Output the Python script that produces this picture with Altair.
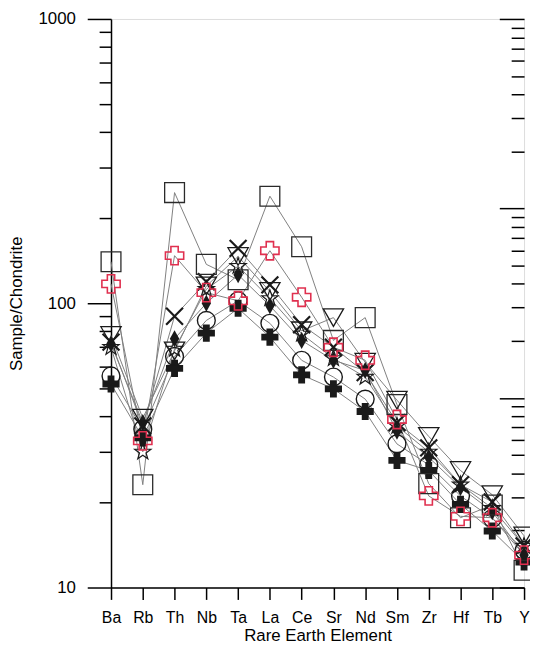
import altair as alt
import pandas as pd

elements = ["Ba", "Rb", "Th", "Nb", "Ta", "La", "Ce", "Sr", "Nd", "Sm", "Zr", "Hf", "Tb", "Y"]

s_square = [140, 23, 245, 137, 121, 238, 158, 74, 89, 44, 23.2, 17.6, 19.5, 11.5]
s_redcross = [117, 32.8, 147, 109, 102, 153, 105, 70, 63, 39, 21, 17.8, 17.6, 13]
s_x = [73, 37, 90, 119, 156, 116, 84, 70, 57, 38, 31, 23, 20, 14]
s_circle = [55.5, 36, 65, 87, 102, 85, 63, 55, 46, 32, 27, 21, 17.5, 13.5]
s_plus = [52, 33.6, 59, 78.5, 96, 76, 56, 50, 41.6, 28, 25.8, 19.6, 15.8, 12.3]
s_diamond = [72, 38, 75, 100, 126, 98, 74, 63, 58, 35.5, 28.7, 22.5, 18.5, 13]
s_tridown = [77, 39.4, 68, 115, 146, 110, 80, 89, 62, 45.6, 34, 25.8, 21.2, 15.2]
s_star = [70, 30, 69, 112, 135, 104, 78, 64, 55, 37, 30, 23, 19, 14]

series = {
    "square": s_square,
    "redcross": s_redcross,
    "x": s_x,
    "circle": s_circle,
    "plus": s_plus,
    "diamond": s_diamond,
    "tridown": s_tridown,
    "star": s_star,
}

rows = []
for name, vals in series.items():
    for el, v in zip(elements, vals):
        rows.append({"element": el, "value": v, "series": name})
df = pd.DataFrame(rows)

FONT = "Liberation Sans"
W, H = 417, 574

left_vals = [10, 20, 30, 40, 50, 60, 70, 80, 90,
             100, 200, 300, 400, 500, 600, 700, 800, 900, 1000]
right_vals = [1, 2, 3, 4, 5, 6, 7, 8, 9] + left_vals

major_test = "datum.value == 1 || datum.value == 10 || datum.value == 100 || datum.value == 1000"

x_enc = alt.X(
    "element:N",
    sort=elements,
    scale=alt.Scale(type="point", padding=0),
    axis=alt.Axis(
        title="Rare Earth Element", labelAngle=0, tickSize=12, tickWidth=1.5,
        tickColor="black", domainColor="black", domainWidth=1.5,
        labelFontSize=16, labelFont=FONT, labelColor="black", labelPadding=10,
        titleFontSize=17, titleFont=FONT, titleFontWeight="normal",
        titleColor="black", titlePadding=3, grid=False,
    ),
)

y_enc = alt.Y(
    "value:Q",
    scale=alt.Scale(type="log", domain=[10, 1000]),
    axis=alt.Axis(
        title="Sample/Chondrite", values=left_vals, format="d",
        labelExpr="(datum.value == 10 || datum.value == 100 || datum.value == 1000) ? datum.label : ''",
        tickSize={"condition": {"test": major_test, "value": 24}, "value": 12},
        tickWidth=1.5, tickColor="black", domainColor="black", domainWidth=1.5,
        labelFontSize=17, labelFont=FONT, labelColor="black", labelPadding=12,
        titleFontSize=17, titleFont=FONT, titleFontWeight="normal",
        titleColor="black", titlePadding=13, grid=False,
    ),
)

base = alt.Chart(df).encode(x=x_enc, y=y_enc)

lines = base.mark_line(color="#7f7f7f", strokeWidth=1).encode(detail="series:N")

X_PATH = "M-1,-1L1,1M-1,1L1,-1"
DIAMOND_PATH = "M0,-1L0.55,0L0,1L-0.55,0Z"
STAR_PATH = ("M0,-1L0.235,-0.324L0.951,-0.309L0.380,0.124L0.588,0.809L0,0.4"
             "L-0.588,0.809L-0.380,0.124L-0.951,-0.309L-0.235,-0.324Z")

marker_specs = [
    ("plus", dict(shape="cross", size=300, filled=True, color="#1a1a1a", strokeWidth=0.5)),
    ("diamond", dict(shape=DIAMOND_PATH, size=300, filled=True, color="#1a1a1a", strokeWidth=0.5)),
    ("circle", dict(shape="circle", size=324, filled=False, color="#1a1a1a", strokeWidth=1.4)),
    ("star", dict(shape=STAR_PATH, size=300, filled=False, color="#1a1a1a", strokeWidth=1.2)),
    ("x", dict(shape=X_PATH, size=290, filled=False, color="#1a1a1a", strokeWidth=2.2)),
    ("tridown", dict(shape="triangle-down", size=420, filled=False, color="#1a1a1a", strokeWidth=1.3)),
    ("square", dict(shape="square", size=400, filled=False, color="#2a2a2a", strokeWidth=1.3)),
    ("redcross", dict(shape="cross", size=340, filled=False, color="#e0304f", strokeWidth=1.6)),
]

point_layers = []
for name, props in marker_specs:
    point_layers.append(
        base.transform_filter(alt.datum.series == name).mark_point(opacity=1, **props)
    )

main = alt.layer(lines, *point_layers)

right_axis = alt.Chart(df).mark_point(opacity=0).encode(
    x=alt.X("element:N", sort=elements, scale=alt.Scale(type="point", padding=0)),
    y=alt.Y(
        "value:Q",
        scale=alt.Scale(type="log", domain=[1, 1000]),
        axis=alt.Axis(
            orient="left", offset=-W, values=right_vals, labels=False,
            domain=False, title=None, grid=False,
            tickSize={"condition": {"test": major_test, "value": 25}, "value": 13},
            tickWidth=1.5, tickColor="black",
        ),
    ),
)

chart = (
    alt.layer(main, right_axis)
    .resolve_scale(y="independent")
    .resolve_axis(y="independent")
    .properties(
        width=W, height=H,
        autosize=alt.AutoSizeParams(type="none"),
        padding={"left": 104, "top": 8, "right": 6, "bottom": 58},
    )
    .configure_view(stroke="black", strokeWidth=1.5)
    .configure(font=FONT, background="white")
)

chart.save("out.html", embed_options={"renderer": "svg", "actions": False})
